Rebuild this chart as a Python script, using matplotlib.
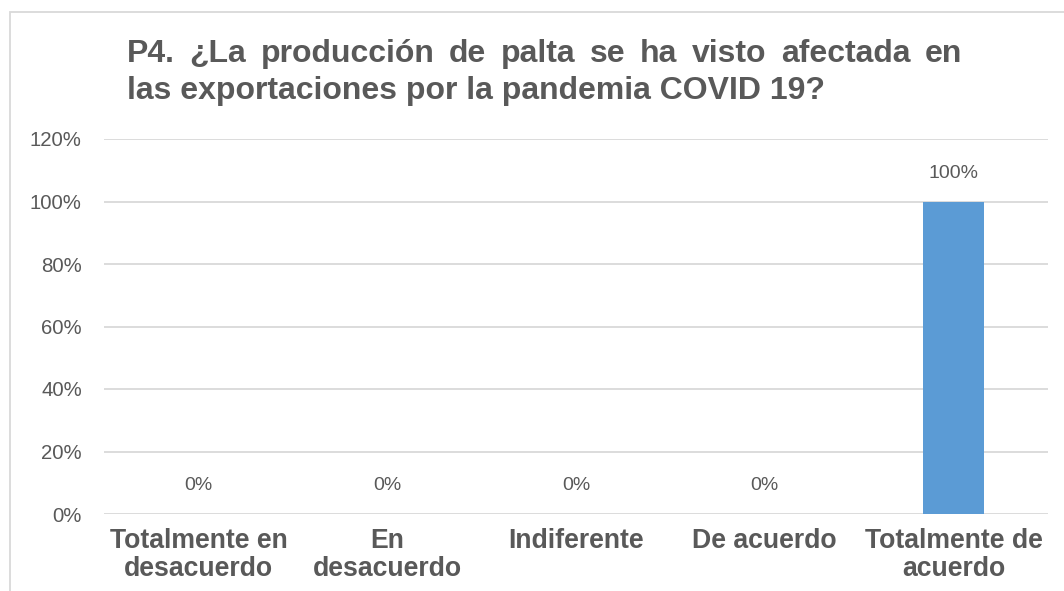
import matplotlib.pyplot as plt
from matplotlib.patches import Rectangle
from matplotlib.ticker import FuncFormatter

plt.rcParams['font.family'] = ['Liberation Sans', 'DejaVu Sans']

# Data
categorias = ['Totalmente en\ndesacuerdo', 'En\ndesacuerdo', 'Indiferente',
              'De acuerdo', 'Totalmente de\nacuerdo']
valores = [0, 0, 0, 0, 100]
titulo_l1 = 'P4. ¿La producción de palta se ha visto afectada en'
titulo_l2 = 'las exportaciones por la pandemia COVID 19?'

gris = '#595959'
azul = '#5B9BD5'
W, H = 1064, 591

fig = plt.figure(figsize=(W / 100, H / 100), dpi=100)
ax = fig.add_axes([104 / W, 1 - 514 / H, (1048 - 104) / W, (514 - 139) / H])

x = range(len(categorias))
ax.bar(x, valores, width=0.32, color=azul, zorder=3)
for xi, v in zip(x, valores):
    ax.text(xi, v + 6.3, f'{v}%', ha='center', va='bottom', fontsize=14, color=gris)

ax.set_ylim(0, 120)
ax.set_xlim(-0.5, len(categorias) - 0.5)
ax.set_yticks(range(0, 121, 20))
ax.yaxis.set_major_formatter(FuncFormatter(lambda v, p: f'{int(v)}%'))
ax.set_xticks(list(x))
ax.set_xticklabels(categorias, fontsize=19.2, fontweight='bold', color=gris, linespacing=1.1)
ax.tick_params(axis='y', labelsize=14.7, labelcolor=gris, length=0, pad=16)
ax.tick_params(axis='x', length=0, pad=10)
ax.grid(axis='y', color='#D9D9D9', linewidth=1.3, zorder=0)
for s in ax.spines.values():
    s.set_visible(False)

# frame around chart area
fig.patches.append(Rectangle((10 / W, -0.1), 1.2, 1 - 12 / H + 0.1, transform=fig.transFigure,
                             fill=False, edgecolor='#D9D9D9', linewidth=1.3))

# justified title, first line spread from x=127 to x=962
renderer = fig.canvas.get_renderer()
words = titulo_l1.split(' ')
tprops = dict(fontsize=23, fontweight='bold', color=gris, va='baseline', ha='left')
texts = [fig.text(0, 1 - 62 / H, w, **tprops) for w in words]
widths = [t.get_window_extent(renderer).width for t in texts]
gap = (962 - 127 - sum(widths)) / (len(words) - 1)
pos = 127
for t, wd in zip(texts, widths):
    t.set_x(pos / W)
    pos += wd + gap
fig.text(127 / W, 1 - 99 / H, titulo_l2, **tprops)

fig.savefig('out.png', dpi=100)
